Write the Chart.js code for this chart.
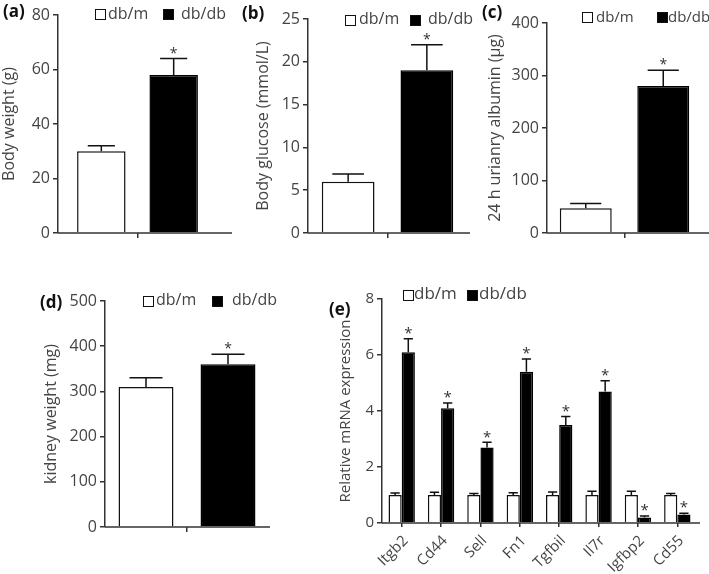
<!DOCTYPE html>
<html>
<head>
<meta charset="utf-8">
<script src="https://cdn.jsdelivr.net/npm/chart.js@4.4.0/dist/chart.umd.min.js"></script>
<style>
  body { margin: 0; background: #fff; }
  #fig { position: relative; width: 709px; height: 574px; overflow: hidden; font-family: "Open Sans", sans-serif; color: #444; }
  canvas { position: absolute; }
  .lab { position: absolute; font-weight: bold; font-size: 17px; line-height: 18px; color: #111; }
  .txt { position: absolute; font-size: 16px; line-height: 16px; white-space: nowrap; }
  .box { position: absolute; width: 9px; height: 9px; border: 1.5px solid #111; background: #fff; }
  .box.fill { background: #000; }
</style>
</head>
<body>
<div id="fig">
  <canvas id="pa" width="240" height="250" style="left:0;top:0"></canvas>
  <canvas id="pb" width="240" height="250" style="left:230px;top:0"></canvas>
  <canvas id="pc" width="249" height="250" style="left:460px;top:0"></canvas>
  <canvas id="pd" width="330" height="324" style="left:0;top:250px"></canvas>
  <canvas id="pe" width="379" height="324" style="left:330px;top:250px"></canvas>

  <div class="lab" style="left:3px;top:2px">(a)</div>
  <div class="lab" style="left:242px;top:4px">(b)</div>
  <div class="lab" style="left:482px;top:3px">(c)</div>
  <div class="lab" style="left:40px;top:293px">(d)</div>
  <div class="lab" style="left:329px;top:300px">(e)</div>

  <div class="box" style="left:95px;top:9px"></div><div class="txt" style="left:108px;top:5px">db/m</div>
  <div class="box fill" style="left:163px;top:9px"></div><div class="txt" style="left:181px;top:5px">db/db</div>

  <div class="box" style="left:345px;top:15px"></div><div class="txt" style="left:359px;top:10px">db/m</div>
  <div class="box fill" style="left:410px;top:15px"></div><div class="txt" style="left:428px;top:10px">db/db</div>

  <div class="box" style="left:582px;top:12px"></div><div class="txt" style="left:596px;top:8px;font-size:15px">db/m</div>
  <div class="box fill" style="left:657px;top:12px"></div><div class="txt" style="left:668px;top:8px;font-size:15px">db/db</div>

  <div class="box" style="left:143px;top:296px"></div><div class="txt" style="left:156px;top:291px">db/m</div>
  <div class="box fill" style="left:212px;top:296px"></div><div class="txt" style="left:232px;top:291px">db/db</div>

  <div class="box" style="left:403px;top:290px"></div><div class="txt" style="left:414px;top:285px;font-size:17px">db/m</div>
  <div class="box fill" style="left:467px;top:290px"></div><div class="txt" style="left:479px;top:285px;font-size:17px">db/db</div>
</div>
<script>
const groups = ['db/m', 'db/db'];

// panels a-d: [db/m, db/db]
const bodyWeight = [30, 58];
const bodyWeightErr = [2, 6];
const glucose = [6, 19];
const glucoseErr = [0.9, 3];
const albumin = [47, 280];
const albuminErr = [9, 30];
const kidneyWeight = [310, 360];
const kidneyWeightErr = [20, 22];

// panel e
const genes = ['Itgb2', 'Cd44', 'Sell', 'Fn1', 'Tgfbil', 'Il7r', 'Igfbp2', 'Cd55'];
const mrnaDbm = [1, 1, 1, 1, 1, 1, 1, 1];
const mrnaDbmErr = [0.07, 0.1, 0.05, 0.08, 0.11, 0.13, 0.13, 0.05];
const mrnaDbdb = [6.1, 4.1, 2.7, 5.4, 3.5, 4.7, 0.2, 0.3];
const mrnaDbdbErr = [0.48, 0.19, 0.18, 0.46, 0.3, 0.38, 0.05, 0.05];

const axisColor = '#333';
const textColor = '#444';

// whiskers (upper only) + asterisks, and the x axis line drawn by hand
const errorBars = {
  id: 'errorBars',
  afterDatasetsDraw(chart, args, opts) {
    const ctx = chart.ctx;
    const y = chart.scales.y;
    chart.data.datasets.forEach((ds, i) => {
      const meta = chart.getDatasetMeta(i);
      meta.data.forEach((bar, j) => {
        const top = y.getPixelForValue(ds.data[j] + ds.errors[j]);
        const half = bar.width * opts.cap / 2;
        ctx.save();
        ctx.strokeStyle = '#111';
        ctx.lineWidth = 1.5;
        ctx.beginPath();
        ctx.moveTo(bar.x, bar.y);
        ctx.lineTo(bar.x, top);
        ctx.moveTo(bar.x - half, top);
        ctx.lineTo(bar.x + half, top);
        ctx.stroke();
        if (ds.stars) {
          ctx.fillStyle = '#333';
          ctx.font = opts.starSize + 'px "Open Sans"';
          ctx.textAlign = 'center';
          ctx.textBaseline = 'middle';
          ctx.fillText('*', bar.x, top - 5);
        }
        ctx.restore();
      });
    });
    const a = chart.chartArea;
    ctx.save();
    ctx.strokeStyle = axisColor;
    ctx.lineWidth = 1.5;
    ctx.beginPath();
    ctx.moveTo(a.left, a.bottom);
    ctx.lineTo(opts.axisEnd, a.bottom);
    ctx.stroke();
    ctx.restore();
  }
};

function makePanel(id, p) {
  const isGenes = !!p.labels;
  new Chart(document.getElementById(id), {
    type: 'bar',
    data: {
      labels: p.labels || [''],
      datasets: [
        { label: groups[0], data: p.a, errors: p.aErr, stars: false,
          backgroundColor: '#fff', borderColor: '#111', borderWidth: 1.5,
          categoryPercentage: p.cat, barPercentage: p.bar },
        { label: groups[1], data: p.b, errors: p.bErr, stars: true,
          backgroundColor: '#000', borderColor: '#000', borderWidth: 1.5,
          categoryPercentage: p.cat, barPercentage: p.bar }
      ]
    },
    options: {
      responsive: false,
      animation: false,
      layout: { padding: { top: p.padTop, right: p.padRight, left: 0, bottom: 0 } },
      plugins: {
        legend: { display: false },
        tooltip: { enabled: false },
        errorBars: { cap: p.capFrac, axisEnd: p.axisEnd, starSize: p.starSize || 14 }
      },
      scales: {
        x: {
          afterFit: s => { s.height = p.xHeight; },
          border: { display: false },
          grid: { drawOnChartArea: false, offset: false, tickLength: isGenes ? 4 : 5, color: axisColor, lineWidth: 1.5 },
          ticks: isGenes
            ? { display: true, color: textColor, font: { family: 'Open Sans', size: 15 }, minRotation: 45, maxRotation: 45, padding: 5, labelOffset: 4 }
            : { display: false }
        },
        y: {
          min: 0,
          max: p.max,
          afterFit: s => { s.width = p.yWidth; },
          border: { color: axisColor, width: 1.5 },
          grid: { drawOnChartArea: false, tickLength: 5, color: axisColor, lineWidth: 1.5 },
          ticks: { stepSize: p.step, color: textColor, padding: 3, font: { family: 'Open Sans', size: p.tickSize || 16 } },
          title: { display: true, text: p.title, color: textColor, font: { family: 'Open Sans', size: p.titleSize || 16 }, padding: { top: p.titlePad, bottom: 0 } }
        }
      }
    },
    plugins: [errorBars]
  });
}

// canvas-local pixels: chart area placed to sit on the reference axes
makePanel('pa', { a: [bodyWeight[0]], aErr: [bodyWeightErr[0]], b: [bodyWeight[1]], bErr: [bodyWeightErr[1]],
  max: 80, step: 20, title: 'Body weight (g)', cat: 0.91, bar: 0.67, capFrac: 0.56,
  yWidth: 58, padTop: 15, padRight: 23, xHeight: 17, titlePad: 0, axisEnd: 232 });

makePanel('pb', { a: [glucose[0]], aErr: [glucoseErr[0]], b: [glucose[1]], bErr: [glucoseErr[1]],
  max: 25, step: 5, title: 'Body glucose (mmol/L)', cat: 0.99, bar: 0.67, capFrac: 0.6,
  yWidth: 78, padTop: 19, padRight: 3, xHeight: 17, titlePad: 24, axisEnd: 240 });

makePanel('pc', { a: [albumin[0]], aErr: [albuminErr[0]], b: [albumin[1]], bErr: [albuminErr[1]],
  max: 400, step: 100, title: '24 h urianry albumin (μg)', cat: 1.0, bar: 0.67, capFrac: 0.6,
  yWidth: 87, padTop: 23, padRight: 7, xHeight: 17, titlePad: 26, axisEnd: 249 });

makePanel('pd', { a: [kidneyWeight[0]], aErr: [kidneyWeightErr[0]], b: [kidneyWeight[1]], bErr: [kidneyWeightErr[1]],
  max: 500, step: 100, title: 'kidney weight (mg)', cat: 1.0, bar: 0.67, capFrac: 0.6,
  yWidth: 105, padTop: 51, padRight: 61, xHeight: 47, titlePad: 42, axisEnd: 270 });

makePanel('pe', { labels: genes, a: mrnaDbm, aErr: mrnaDbmErr, b: mrnaDbdb, bErr: mrnaDbdbErr,
  max: 8, step: 2, title: 'Relative mRNA expression', cat: 0.67, bar: 1.0, capFrac: 0.7, starSize: 15,
  tickSize: 15, titleSize: 15,
  yWidth: 52, padTop: 49, padRight: 12, xHeight: 51, titlePad: 7, axisEnd: 370 });
</script>
</body>
</html>
